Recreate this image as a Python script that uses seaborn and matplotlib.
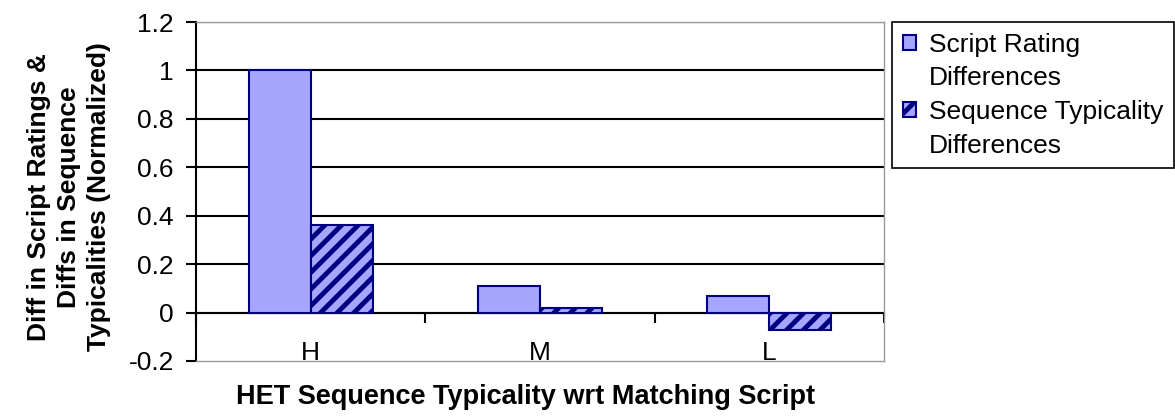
import matplotlib
matplotlib.use("Agg")
import matplotlib.pyplot as plt
from matplotlib.patches import Patch
import seaborn as sns
import pandas as pd

# --- data -------------------------------------------------------------
levels = ["H", "M", "L"]
script_rating_diffs = [1.0, 0.11, 0.07]
sequence_typicality_diffs = [0.36, 0.02, -0.07]
series_names = ["Script Rating Differences", "Sequence Typicality Differences"]
legend_lines = ["Script Rating", "Differences", "Sequence Typicality", "Differences"]
y_ticks = [-0.2, 0.0, 0.2, 0.4, 0.6, 0.8, 1.0, 1.2]
y_tick_labels = ["-0.2", "0", "0.2", "0.4", "0.6", "0.8", "1", "1.2"]
x_title = "HET Sequence Typicality wrt Matching Script"
y_title = "Diff in Script Ratings &\nDiffs in Sequence\nTypicalities (Normalized)"

df = pd.DataFrame({
    "level": levels * 2,
    "value": script_rating_diffs + sequence_typicality_diffs,
    "series": [series_names[0]] * 3 + [series_names[1]] * 3,
})

# --- style ------------------------------------------------------------
sns.set_style("white", {"text.color": "black", "axes.labelcolor": "black",
                        "xtick.color": "black", "ytick.color": "black"})
plt.rcParams["font.family"] = ["Liberation Sans", "DejaVu Sans"]
plt.rcParams["hatch.linewidth"] = 3.5

LAV = "#a6a6ff"
NAVY = "#000080"
FS = 19

fig = plt.figure(figsize=(11.75, 4.17), dpi=100)
ax = fig.add_axes([0.1668, 0.1343, 0.5855, 0.8129])

sns.barplot(data=df, x="level", y="value", hue="series", order=levels,
            hue_order=series_names, palette=[LAV, LAV], saturation=1,
            width=0.54, edgecolor=NAVY, linewidth=1.5, legend=False,
            ax=ax, zorder=3)
for bar in ax.containers[1]:
    bar.set_hatch("//")

ymin, ymax = y_ticks[0], y_ticks[-1]
ax.set_ylim(ymin, ymax)
ax.set_xlim(-0.5, len(levels) - 0.5)

# y axis
ax.set_yticks(y_ticks)
ax.set_yticklabels(y_tick_labels)
ax.tick_params(axis="y", direction="out", length=7, width=1.5, color="black",
               labelcolor="black", labelsize=FS, pad=9, left=True)
ax.yaxis.grid(True, color="black", linewidth=1.5)
ax.set_axisbelow(True)
ax.yaxis.get_gridlines()[0].set_visible(False)

# spines: black value axis, grey plot-area frame
ax.spines["left"].set_color("black")
ax.spines["left"].set_linewidth(1.5)
for side in ("top", "right", "bottom"):
    ax.spines[side].set_color("#9a9a9a")
    ax.spines[side].set_linewidth(1.0)

# category labels sit just inside the bottom of the plot area
ax.tick_params(axis="x", length=0, labelsize=FS, labelcolor="black", pad=-1)
for lab in ax.get_xticklabels():
    lab.set_verticalalignment("baseline")

# category axis line crossing at zero, with ticks between categories
zero_frac = (0 - ymin) / (ymax - ymin)
sec = ax.secondary_xaxis(zero_frac)
sec.set_xticks([i + 0.5 for i in range(-1, len(levels))])
sec.tick_params(axis="x", direction="out", length=7, width=1.5,
                color="black", labelbottom=False)
sec.spines["bottom"].set_color("black")
sec.spines["bottom"].set_linewidth(1.5)

# axis titles
ax.set_xlabel(x_title, fontsize=19.5, fontweight="bold", color="black")
ax.xaxis.set_label_coords(0.479, -0.068)
ax.set_ylabel(y_title, fontsize=FS, fontweight="bold", linespacing=1.3,
              color="black")
ax.yaxis.set_label_coords(-0.124, 0.484)

# legend
blank = Patch(facecolor="none", edgecolor="none")
handles = [ax.containers[0][0], blank, ax.containers[1][0], blank]
leg = fig.legend(handles, legend_lines, loc="upper left",
                 bbox_to_anchor=(892 / 1175, 1 - 22 / 417),
                 bbox_transform=fig.transFigure, fontsize=FS,
                 frameon=True, fancybox=False, framealpha=1,
                 edgecolor="black", borderaxespad=0, borderpad=0.4,
                 handlelength=0.5, handleheight=0.5, handletextpad=0.5,
                 labelspacing=0.37, labelcolor="black")
leg.get_frame().set_linewidth(1.2)

fig.savefig("out.png", dpi=100, facecolor="white")
